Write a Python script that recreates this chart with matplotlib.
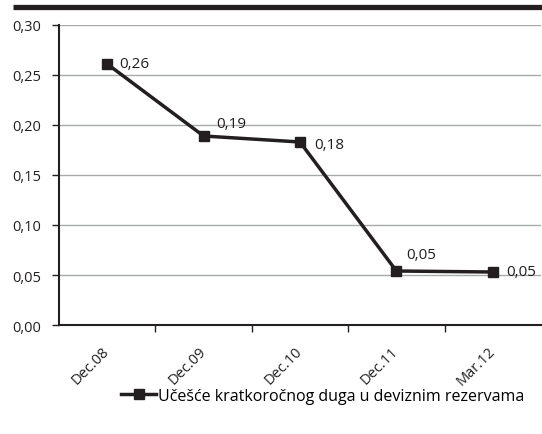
import matplotlib
matplotlib.use("Agg")
import matplotlib.pyplot as plt
from matplotlib.lines import Line2D

categories = ["Dec.08", "Dec.09", "Dec.10", "Dec.11", "Mar.12"]
values = [0.261, 0.189, 0.183, 0.054, 0.053]
series_name = "Učešće kratkoročnog duga u deviznim rezervama"
yticks = [0.00, 0.05, 0.10, 0.15, 0.20, 0.25, 0.30]

plt.rcParams["font.family"] = ["Open Sans", "DejaVu Sans"]
FS = 10.5
INK = "#231f20"

fig = plt.figure(figsize=(5.42, 4.35), dpi=100)
ax = fig.add_axes([59 / 542, 109 / 435, 482 / 542, 300 / 435])

# heavy rule across the top
fig.add_artist(Line2D([13 / 542, 1.0], [1 - 7.5 / 435] * 2, color=INK,
                      lw=3.8, solid_capstyle="butt", transform=fig.transFigure))

x = list(range(len(categories)))
ax.plot(x, values, color=INK, lw=2.5, marker="s", markersize=7.5,
        markerfacecolor=INK, markeredgecolor=INK, zorder=3)

offsets = [(9, 0), (9, 9), (10, -2), (7, 12), (10, 0)]
for xi, v, (dx, dy) in zip(x, values, offsets):
    ax.annotate(f"{v:.2f}".replace(".", ","), (xi, v), xytext=(dx, dy),
                textcoords="offset points", ha="left", va="center",
                fontsize=11, color=INK)

ax.set_xlim(-0.5, len(categories) - 0.5)
ax.set_ylim(0, 0.30)
ax.set_yticks(yticks)
ax.set_yticklabels([f"{t:.2f}".replace(".", ",") for t in yticks], fontsize=FS,
                   color=INK)
ax.yaxis.grid(True, color="#a7a9ac", lw=1)
ax.set_axisbelow(True)

ax.set_xticks(x)
ax.set_xticklabels(categories, rotation=45, ha="right", va="center",
                   rotation_mode="anchor", fontsize=FS, color=INK)
ax.tick_params(axis="x", which="major", length=0, pad=17)
ax.set_xticks([i + 0.5 for i in x[:-1]], minor=True)
ax.tick_params(axis="x", which="minor", length=5, width=1, color=INK)
ax.tick_params(axis="y", length=5, width=1, color=INK, pad=8)

for s in ["top", "right"]:
    ax.spines[s].set_visible(False)
for s in ["left", "bottom"]:
    ax.spines[s].set_color(INK)
    ax.spines[s].set_linewidth(1.5)

handle = Line2D([], [], color=INK, lw=2.5, marker="s", markersize=6.5)
fig.legend([handle], [series_name], loc="center", bbox_to_anchor=(0.595, 1 - 397 / 435),
           frameon=False, fontsize=11.5, handlelength=2.2, handletextpad=0.1)

fig.savefig("out.png", dpi=100)
